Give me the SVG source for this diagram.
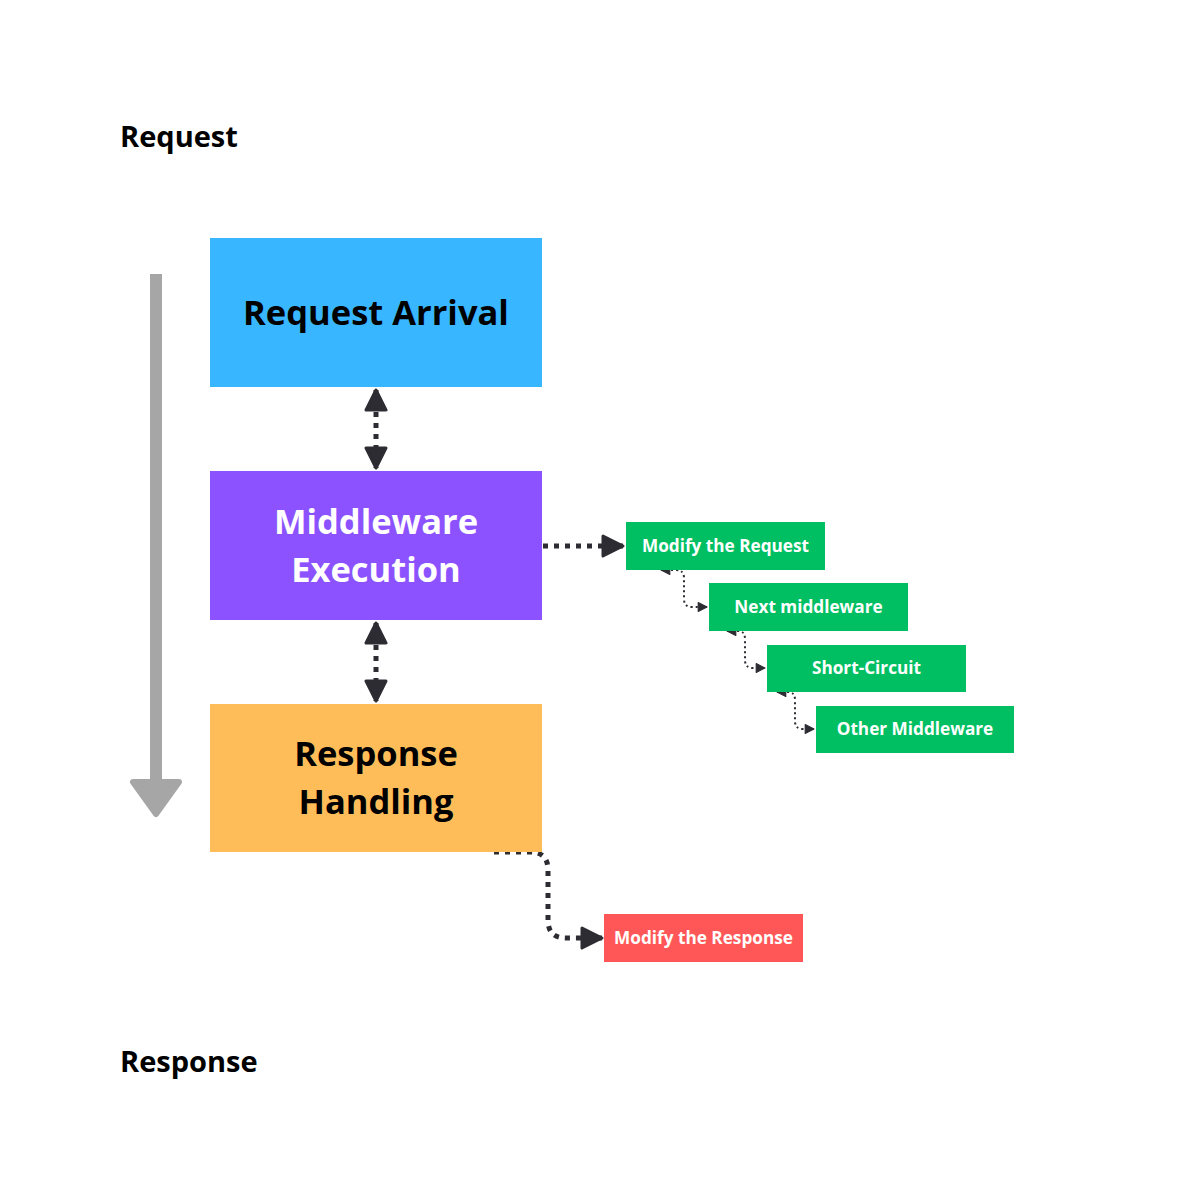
<svg xmlns="http://www.w3.org/2000/svg" width="1200" height="1200" viewBox="0 0 1200 1200">
<style>
  text { font-family: "Open Sans", "Liberation Sans", sans-serif; font-weight: bold; text-anchor: middle; }
  .lbl { font-size: 29px; fill: #000; text-anchor: start; }
  .big { font-size: 34.5px; }
  .small { font-size: 17.2px; fill: #fff; }
  .thick { fill: none; stroke: #2d2c32; stroke-width: 5; stroke-dasharray: 5 6; }
  .thin { fill: none; stroke: #2d2c32; stroke-width: 2; stroke-dasharray: 2 3; }
</style>
<defs>
  <marker id="ah" viewBox="0 0 10 10" refX="9" refY="5" markerWidth="5" markerHeight="5" orient="auto-start-reverse" markerUnits="strokeWidth">
    <path d="M1,1 L9,5 L1,9 Z" fill="#2d2c32" stroke="#2d2c32" stroke-width="1.2" stroke-linejoin="round"/>
  </marker>
  <marker id="ahs" viewBox="0 0 10 10" refX="9" refY="5" markerWidth="5.5" markerHeight="5.5" orient="auto-start-reverse" markerUnits="strokeWidth">
    <path d="M1,1 L9,5 L1,9 Z" fill="#2d2c32" stroke="#2d2c32" stroke-width="1" stroke-linejoin="round"/>
  </marker>
</defs>
<rect width="1200" height="1200" fill="#fff"/>
<text class="lbl" x="120" y="147">Request</text>
<text class="lbl" x="120" y="1072">Response</text>
<g id="flow-arrow">
  <rect x="150" y="274" width="12" height="510" fill="#a6a6a6"/>
  <path d="M133,782 L179,782 L156,814 Z" fill="#a6a6a6" stroke="#a6a6a6" stroke-width="6" stroke-linejoin="round"/>
</g>
<g id="connectors">
  <path class="thick" d="M376,390 L376,468" marker-start="url(#ah)" marker-end="url(#ah)"/>
  <path class="thick" d="M376,623 L376,701" marker-start="url(#ah)" marker-end="url(#ah)"/>
  <path class="thick" d="M543,546 L623,546" marker-end="url(#ah)"/>
  <path class="thick" d="M494,852 L530,852 Q548,852 548,870 L548,920 Q548,938 566,938 L602,938" marker-end="url(#ah)"/>
  <path class="thin" d="M661,570 L676,570 Q684,570 684,578 L684,599 Q684,607 692,607 L707,607" marker-start="url(#ahs)" marker-end="url(#ahs)"/>
  <path class="thin" d="M727,631 L738,631 Q745,631 745,639 L745,660 Q745,668 753,668 L765,668" marker-start="url(#ahs)" marker-end="url(#ahs)"/>
  <path class="thin" d="M777,692 L788,692 Q795,692 795,700 L795,721 Q795,729 803,729 L814,729" marker-start="url(#ahs)" marker-end="url(#ahs)"/>
</g>
<g id="request-arrival">
  <rect x="210" y="238" width="332" height="149" fill="#38b6ff"/>
  <text class="big" x="376" y="325">Request Arrival</text>
</g>
<g id="middleware-execution">
  <rect x="210" y="471" width="332" height="149" fill="#8c52ff"/>
  <text class="big" x="376" y="534" fill="#fff">Middleware</text>
  <text class="big" x="376" y="582" fill="#fff">Execution</text>
</g>
<g id="response-handling">
  <rect x="210" y="704" width="332" height="148" fill="#ffbd59"/>
  <text class="big" x="376" y="766">Response</text>
  <text class="big" x="376" y="814">Handling</text>
</g>
<g id="modify-request">
  <rect x="626" y="522" width="199" height="48" fill="#00bf63"/>
  <text class="small" x="725.5" y="552">Modify the Request</text>
</g>
<g id="next-middleware">
  <rect x="709" y="583" width="199" height="48" fill="#00bf63"/>
  <text class="small" x="808.5" y="613">Next middleware</text>
</g>
<g id="short-circuit">
  <rect x="767" y="645" width="199" height="47" fill="#00bf63"/>
  <text class="small" x="866.5" y="674">Short-Circuit</text>
</g>
<g id="other-middleware">
  <rect x="816" y="706" width="198" height="47" fill="#00bf63"/>
  <text class="small" x="915" y="735">Other Middleware</text>
</g>
<g id="modify-response">
  <rect x="604" y="914" width="199" height="48" fill="#ff5757"/>
  <text class="small" x="703.5" y="944">Modify the Response</text>
</g>
</svg>
